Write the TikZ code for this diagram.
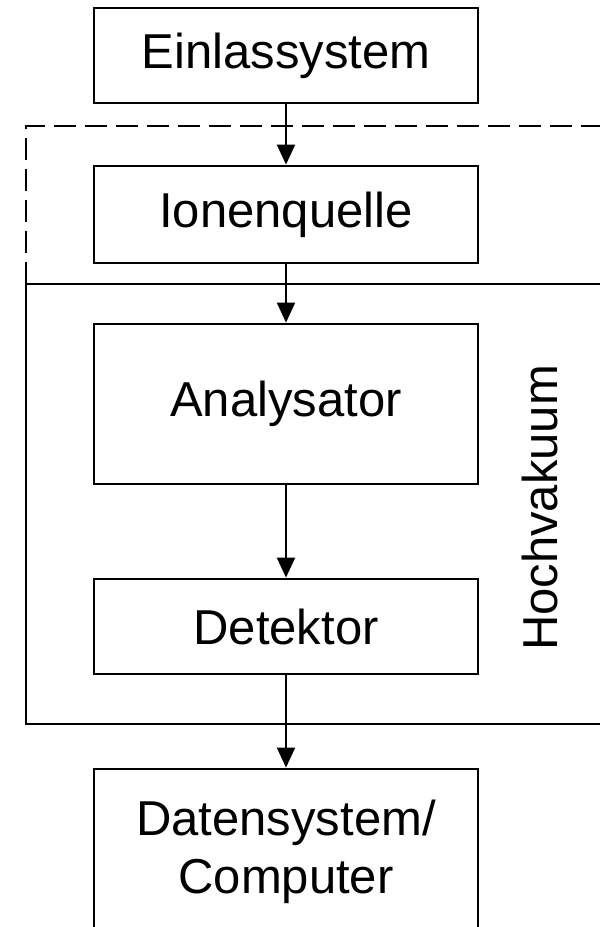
\documentclass[tikz,border=0pt]{standalone}
\usepackage{fontspec}
\setmainfont{Liberation Sans}
\usetikzlibrary{arrows.meta}
\tikzset{
  blk/.style={draw, line width=2.8pt, minimum width=384pt, inner sep=0pt,
    font=\fontsize{49}{58}\selectfont, align=center},
  conn/.style={line width=2pt, -{Triangle[length=20pt,width=18pt]}},
  frame/.style={draw, line width=2.8pt},
  dframe/.style={draw, line width=2.8pt, dash pattern=on 22pt off 9pt},
  side/.style={font=\fontsize{49}{58}\selectfont, rotate=90, inner sep=0pt}
}
\begin{document}
\begin{tikzpicture}[x=1pt, y=-1pt]
\useasboundingbox (0,0) rectangle (600,927);
\clip (0,0) rectangle (600,927);
\fill[white] (0,0) rectangle (600,927);
% frames
\draw[dframe] (26,284) -- (26,126) -- (620,126);
\draw[frame] (620,284) -- (26,284) -- (26,724) -- (620,724);
% blocks
\node[blk, minimum height=95pt]  (ein) at (286,55.5) {Einlassystem};
\node[blk, minimum height=97pt]  (ion) at (286,214.5) {Ionenquelle};
\node[blk, minimum height=160pt] (ana) at (286,404) {Analysator};
\node[blk, minimum height=95pt]  (det) at (286,626.5) {Detektor};
\node[blk, minimum height=166pt] (dat) at (286,852) {Datensystem/\\Computer};
\node[side] (hv) at (540,508) {Hochvakuum};
% connectors
\draw[conn] (ein.south) -- (ion.north);
\draw[conn] (ion.south) -- (ana.north);
\draw[conn] (ana.south) -- (det.north);
\draw[conn] (det.south) -- (dat.north);
\end{tikzpicture}
\end{document}
